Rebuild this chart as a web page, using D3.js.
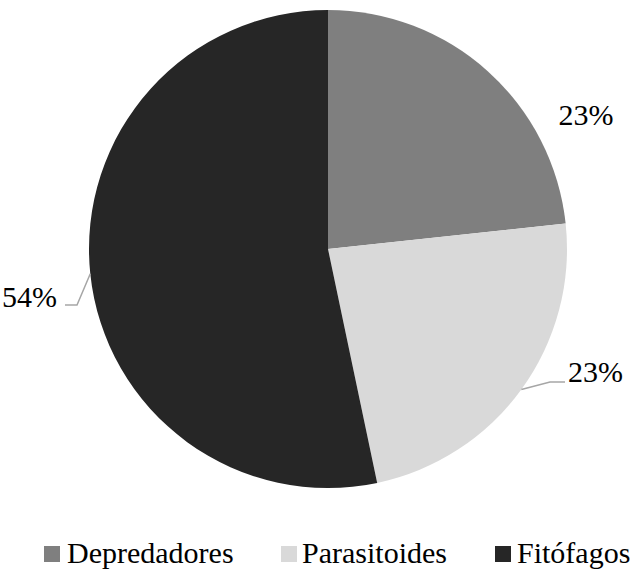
<!DOCTYPE html>
<html>
<head>
<meta charset="utf-8">
<script src="https://cdn.jsdelivr.net/npm/d3@7"></script>
<style>
  html, body { margin: 0; padding: 0; background: #ffffff; }
  svg { display: block; }
  text.t { font-family: 'Liberation Serif', Tinos, serif; font-size: 30px; }
</style>
</head>
<body>
<svg id="chart" width="630" height="572"></svg>
<script>
// ---- data ----
const categories = ["Depredadores", "Parasitoides", "Fitófagos"];
const shares = [23.3, 23.4, 53.3];           // slice sizes
const shareLabels = ["23%", "23%", "54%"];  // labels as printed on the chart
const colors = ["#7f7f7f", "#d9d9d9", "#262626"];

// ---- layout ----
const cx = 328, cy = 249, R = 239;

const svg = d3.select("#chart");
const data = categories.map((c, i) => ({ cat: c, value: shares[i], label: shareLabels[i], color: colors[i] }));

const pie = d3.pie().value(d => d.value).sort(null);
const arcs = pie(data);
const arc = d3.arc().innerRadius(0).outerRadius(R);

const g = svg.append("g").attr("transform", `translate(${cx},${cy})`);
g.selectAll("path.slice").data(arcs).enter().append("path")
  .attr("class", "slice")
  .attr("d", arc)
  .attr("fill", d => d.data.color);

const labelLayout = [
  { mode: "free", x: 586, y: 125, anchor: "middle" },
  { mode: "leader", elbow: [550, 382], end: [565, 382], x: 568, y: 382, anchor: "start" },
  { mode: "leader", elbow: [77, 305], end: [65, 305], x: 57, y: 306.5, anchor: "end" }
];

arcs.forEach((a, i) => {
  const L = labelLayout[i];
  if (L.mode === "leader") {
    const mid = (a.startAngle + a.endAngle) / 2;
    const sx = cx + R * Math.sin(mid), sy = cy - R * Math.cos(mid);
    svg.append("polyline")
      .attr("points", [[sx, sy], L.elbow, L.end].map(p => p.join(",")).join(" "))
      .attr("fill", "none")
      .attr("stroke", "#a6a6a6")
      .attr("stroke-width", 1.5);
  }
  svg.append("text").attr("class", "t")
    .attr("x", L.x).attr("y", L.y)
    .attr("text-anchor", L.anchor)
    .attr("fill", "#000")
    .text(a.data.label);
});

// legend
const legendItems = [
  { sx: 44, tx: 67 },
  { sx: 281, tx: 302 },
  { sx: 495, tx: 517 }
];
data.forEach((d, i) => {
  svg.append("rect")
    .attr("x", legendItems[i].sx).attr("y", 546)
    .attr("width", 16).attr("height", 16)
    .attr("fill", d.color);
  svg.append("text").attr("class", "t")
    .attr("x", legendItems[i].tx).attr("y", 563)
    .attr("fill", "#000")
    .text(d.cat);
});
</script>
</body>
</html>
